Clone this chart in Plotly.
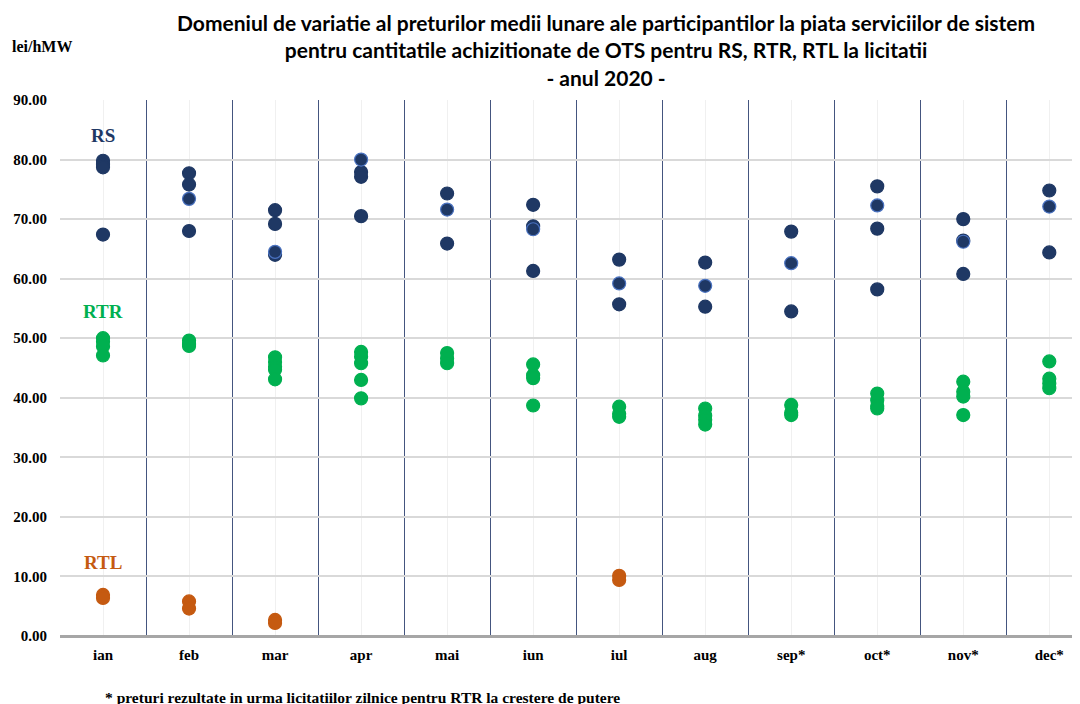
import plotly.graph_objects as go

months = ["ian", "feb", "mar", "apr", "mai", "iun", "iul", "aug", "sep*", "oct*", "nov*", "dec*"]

# RS prices (lei/hMW), dark navy points
rs_values = [
    [79.8, 79.2, 78.7, 67.4],
    [77.7, 75.8, 68.0],
    [71.5, 69.2, 64.0],
    [77.9, 77.1, 70.5],
    [74.3, 65.9],
    [72.4, 68.8, 61.3],
    [63.2, 55.7],
    [62.7, 55.3],
    [67.9, 54.5],
    [75.5, 68.4, 58.2],
    [70.0, 66.4, 60.8],
    [74.8, 64.4],
]
# RS points drawn with lighter outline
rs_outlined = [
    [],
    [73.4],
    [64.5],
    [80.0],
    [71.6],
    [68.3],
    [59.2],
    [58.8],
    [62.6],
    [72.3],
    [66.2],
    [72.1],
]
rtr_values = [
    [50.0, 49.4, 48.6, 47.1],
    [49.6, 49.0, 48.7],
    [46.8, 46.0, 45.2, 44.7, 43.1],
    [47.7, 46.9, 45.8, 43.0, 39.9],
    [47.5, 46.6, 45.8],
    [45.6, 43.8, 43.3, 38.7],
    [38.5, 37.3, 36.8],
    [38.2, 37.0, 36.3, 35.5],
    [38.8, 37.5, 37.1],
    [40.7, 39.6, 38.6, 38.2],
    [42.7, 41.0, 40.2, 37.1],
    [46.1, 43.2, 42.4, 41.6],
]
rtl_values = [
    [6.9, 6.4],
    [5.8, 4.6],
    [2.7, 2.2],
    [], [], [],
    [10.1, 9.4],
    [], [], [], [], [],
]

NAVY = "#1f3864"
GREEN = "#00b050"
ORANGE = "#c55a11"


def flatten(groups):
    xs, ys = [], []
    for i, vals in enumerate(groups):
        for v in vals:
            xs.append(i)
            ys.append(v)
    return xs, ys


fig = go.Figure()

for groups, color, edge in [
    (rtl_values, ORANGE, ORANGE),
    (rtr_values, GREEN, GREEN),
    (rs_values, NAVY, NAVY),
    (rs_outlined, NAVY, "#4a72c0"),
]:
    xs, ys = flatten(groups)
    fig.add_trace(go.Scatter(
        x=xs, y=ys, mode="markers",
        marker=dict(size=13, color=color, line=dict(color=edge, width=1.2)),
        showlegend=False,
    ))

serif = "Liberation Serif"

fig.add_annotation(x=0, y=84.0, text="<b>RS</b>", showarrow=False,
                   font=dict(family=serif, size=19, color=NAVY))
fig.add_annotation(x=0, y=54.5, text="<b>RTR</b>", showarrow=False,
                   font=dict(family=serif, size=19, color=GREEN))
fig.add_annotation(x=0, y=12.4, text="<b>RTL</b>", showarrow=False,
                   font=dict(family=serif, size=19, color=ORANGE))

fig.add_annotation(
    xref="paper", yref="paper", x=0.531, y=1.172, xanchor="center", yanchor="top",
    text="<b>Domeniul de variatie al preturilor medii lunare ale participantilor la piata serviciilor de sistem</b>"
         "<br><b>pentru cantitatile achizitionate de OTS pentru RS, RTR, RTL la licitatii</b>"
         "<br><b>- anul 2020 -</b>",
    showarrow=False, align="center",
    font=dict(family="Lato", size=21, color="black"),
)
fig.add_annotation(
    xref="paper", yref="paper", x=-0.049, y=1.099, xanchor="left", yanchor="middle",
    text="<b>lei/hMW</b>", showarrow=False,
    font=dict(family=serif, size=16, color="black"),
)
fig.add_annotation(
    xref="paper", yref="paper", x=0.042, y=-0.114, xanchor="left", yanchor="middle",
    text="<b>* preturi rezultate in urma licitatiilor zilnice pentru RTR la crestere de putere</b>",
    showarrow=False,
    font=dict(family=serif, size=15.5, color="black"),
)

# page body adds an 8px offset, so the margins are shifted to compensate
fig.update_layout(
    width=1080, height=704,
    margin=dict(l=52, r=0, t=92, b=76),
    plot_bgcolor="white",
    paper_bgcolor="white",
    xaxis=dict(
        range=[-0.5, 11.45],
        tickmode="array",
        tickvals=list(range(len(months))),
        ticktext=["<b>%s</b>" % m for m in months],
        tickfont=dict(family=serif, size=15, color="black"),
        showgrid=True, gridcolor="#f0f0f0", gridwidth=1,
        minor=dict(tickvals=[i + 0.5 for i in range(-1, len(months))],
                   showgrid=True, gridcolor="#44557f", gridwidth=1.3, ticklen=0),
        zeroline=False, showline=False, ticks="", ticklabelstandoff=8,
    ),
    yaxis=dict(
        range=[0, 90], dtick=10, tickformat=".2f",
        tickfont=dict(family=serif, size=15, color="black", weight="bold"),
        showgrid=True, gridcolor="#d9d9d9", gridwidth=1.5,
        zeroline=True, zerolinecolor="#a6a6a6", zerolinewidth=2.5,
        showline=False, ticks="", ticklabelstandoff=12,
    ),
)

fig.write_html("out.html")
